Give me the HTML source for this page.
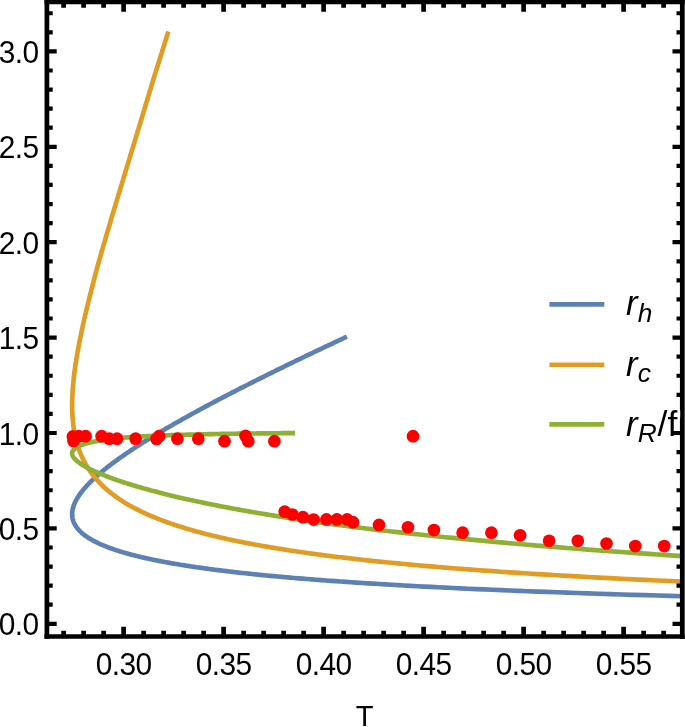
<!DOCTYPE html><html><head><meta charset="utf-8"><style>html,body{margin:0;padding:0;background:#fff}svg{display:block}</style></head><body><svg width="685" height="727" viewBox="0 0 685 727">
<defs><clipPath id="c"><rect x="47.0" y="2.0" width="635.4" height="634.5"/></clipPath></defs>
<rect width="685" height="727" fill="#fff"/>
<g clip-path="url(#c)" fill="none" stroke-width="4.65" stroke-linejoin="round">
<path d="M893.92,600.90 L874.58,600.55 L855.84,600.19 L837.70,599.83 L820.11,599.47 L803.07,599.11 L786.53,598.75 L770.49,598.39 L754.92,598.04 L739.80,597.68 L725.12,597.32 L710.85,596.96 L696.98,596.60 L683.50,596.24 L670.38,595.88 L657.62,595.53 L645.20,595.17 L633.12,594.81 L621.35,594.45 L609.88,594.09 L598.71,593.73 L587.82,593.37 L577.21,593.02 L566.87,592.66 L556.78,592.30 L546.93,591.94 L537.33,591.58 L527.96,591.22 L518.81,590.86 L509.88,590.51 L501.15,590.15 L492.63,589.79 L484.31,589.43 L476.17,589.07 L468.23,588.71 L460.46,588.35 L452.86,588.00 L445.43,587.64 L438.17,587.28 L431.06,586.92 L424.11,586.56 L417.31,586.20 L410.65,585.84 L404.13,585.49 L397.76,585.13 L391.51,584.77 L385.40,584.41 L379.41,584.05 L373.55,583.69 L367.80,583.34 L362.17,582.98 L356.66,582.62 L351.26,582.26 L345.96,581.90 L340.77,581.54 L335.68,581.18 L330.69,580.83 L325.80,580.47 L321.01,580.11 L316.30,579.75 L311.69,579.39 L307.17,579.03 L302.73,578.67 L298.37,578.32 L294.10,577.96 L289.91,577.60 L285.79,577.24 L281.76,576.88 L277.80,576.52 L273.91,576.16 L270.09,575.81 L266.34,575.45 L262.66,575.09 L259.05,574.73 L255.50,574.37 L252.02,574.01 L248.60,573.65 L245.24,573.30 L241.94,572.94 L238.70,572.58 L235.52,572.22 L232.39,571.86 L229.32,571.50 L226.30,571.14 L223.34,570.79 L220.43,570.43 L217.57,570.07 L214.76,569.71 L211.99,569.35 L209.28,568.99 L206.61,568.63 L203.99,568.28 L201.41,567.92 L198.88,567.56 L196.39,567.20 L193.94,566.84 L191.54,566.48 L189.18,566.12 L186.85,565.77 L184.57,565.41 L182.32,565.05 L180.12,564.69 L177.95,564.33 L175.82,563.97 L173.72,563.61 L171.66,563.26 L169.63,562.90 L167.64,562.54 L165.68,562.18 L163.76,561.82 L161.86,561.46 L160.00,561.10 L158.17,560.75 L156.38,560.39 L154.61,560.03 L152.87,559.67 L151.16,559.31 L149.48,558.95 L147.83,558.60 L146.20,558.24 L144.61,557.88 L143.04,557.52 L141.49,557.16 L139.98,556.80 L138.48,556.44 L137.02,556.09 L135.58,555.73 L134.16,555.37 L132.77,555.01 L131.40,554.65 L130.05,554.29 L128.73,553.93 L127.43,553.58 L126.15,553.22 L124.90,552.86 L123.66,552.50 L122.45,552.14 L121.26,551.78 L120.09,551.42 L118.94,551.07 L117.81,550.71 L116.70,550.35 L115.61,549.99 L114.54,549.63 L113.48,549.27 L112.45,548.91 L111.43,548.56 L110.44,548.20 L109.46,547.84 L108.49,547.48 L108.49,547.48 L107.11,546.95 L105.76,546.42 L104.45,545.89 L103.17,545.37 L101.93,544.84 L100.72,544.31 L99.54,543.78 L98.40,543.25 L97.29,542.72 L96.21,542.20 L95.16,541.67 L94.15,541.14 L93.16,540.61 L92.20,540.08 L91.27,539.55 L90.37,539.03 L89.49,538.50 L88.65,537.97 L87.82,537.44 L87.03,536.91 L86.26,536.38 L85.52,535.86 L84.80,535.33 L84.10,534.80 L83.43,534.27 L82.78,533.74 L82.16,533.21 L81.56,532.68 L80.98,532.16 L80.42,531.63 L79.88,531.10 L79.36,530.57 L78.87,530.04 L78.39,529.51 L77.94,528.99 L77.51,528.46 L77.09,527.93 L76.69,527.40 L76.32,526.87 L75.96,526.34 L75.61,525.82 L75.29,525.29 L74.99,524.76 L74.70,524.23 L74.43,523.70 L74.17,523.17 L73.93,522.64 L73.71,522.12 L73.50,521.59 L73.31,521.06 L73.14,520.53 L72.98,520.00 L72.83,519.47 L72.70,518.95 L72.59,518.42 L72.49,517.89 L72.40,517.36 L72.33,516.83 L72.27,516.30 L72.22,515.78 L72.19,515.25 L72.17,514.72 L72.17,514.19 L72.17,513.66 L72.19,513.13 L72.22,512.61 L72.27,512.08 L72.32,511.55 L72.39,511.02 L72.47,510.49 L72.56,509.96 L72.66,509.43 L72.77,508.91 L72.90,508.38 L73.03,507.85 L73.18,507.32 L73.34,506.79 L73.50,506.26 L73.68,505.74 L73.87,505.21 L74.07,504.68 L74.27,504.15 L74.49,503.62 L74.72,503.09 L74.96,502.57 L75.20,502.04 L75.46,501.51 L75.72,500.98 L76.00,500.45 L76.28,499.92 L76.57,499.40 L76.87,498.87 L77.18,498.34 L77.50,497.81 L77.82,497.28 L78.16,496.75 L78.50,496.22 L78.85,495.70 L79.21,495.17 L79.57,494.64 L79.95,494.11 L80.33,493.58 L80.72,493.05 L81.12,492.53 L81.52,492.00 L81.93,491.47 L82.35,490.94 L82.78,490.41 L83.21,489.88 L83.65,489.36 L84.10,488.83 L84.55,488.30 L85.01,487.77 L85.48,487.24 L85.95,486.71 L86.43,486.18 L86.92,485.66 L87.41,485.13 L87.91,484.60 L88.42,484.07 L88.93,483.54 L89.45,483.01 L89.97,482.49 L90.50,481.96 L91.03,481.43 L91.58,480.90 L92.12,480.37 L92.68,479.84 L93.23,479.32 L93.80,478.79 L94.37,478.26 L94.94,477.73 L95.52,477.20 L96.11,476.67 L96.70,476.15 L97.30,475.62 L97.90,475.09 L98.50,474.56 L99.12,474.03 L99.73,473.50 L100.35,472.97 L100.98,472.45 L101.61,471.92 L102.25,471.39 L102.89,470.86 L103.53,470.33 L104.18,469.80 L104.84,469.28 L105.50,468.75 L106.16,468.22 L106.83,467.69 L107.50,467.16 L108.18,466.63 L108.86,466.11 L109.55,465.58 L110.24,465.05 L110.93,464.52 L111.63,463.99 L112.33,463.46 L113.04,462.94 L113.75,462.41 L114.46,461.88 L115.18,461.35 L115.90,460.82 L116.63,460.29 L117.36,459.76 L118.09,459.24 L118.83,458.71 L119.57,458.18 L120.32,457.65 L121.07,457.12 L121.82,456.59 L122.57,456.07 L123.33,455.54 L124.10,455.01 L124.86,454.48 L125.63,453.95 L126.41,453.42 L127.18,452.90 L127.96,452.37 L128.75,451.84 L129.53,451.31 L130.32,450.78 L131.12,450.25 L131.91,449.72 L132.71,449.20 L133.52,448.67 L134.32,448.14 L135.13,447.61 L135.94,447.08 L136.76,446.55 L137.58,446.03 L138.40,445.50 L139.22,444.97 L140.05,444.44 L140.88,443.91 L141.71,443.38 L142.55,442.86 L143.39,442.33 L144.23,441.80 L145.07,441.27 L145.92,440.74 L146.77,440.21 L147.62,439.69 L148.48,439.16 L149.33,438.63 L150.19,438.10 L151.06,437.57 L151.92,437.04 L152.79,436.51 L153.66,435.99 L154.53,435.46 L155.41,434.93 L156.29,434.40 L157.17,433.87 L158.05,433.34 L158.94,432.82 L159.83,432.29 L160.72,431.76 L161.61,431.23 L162.50,430.70 L163.40,430.17 L164.30,429.65 L165.20,429.12 L166.11,428.59 L167.01,428.06 L167.92,427.53 L168.83,427.00 L169.75,426.48 L170.66,425.95 L171.58,425.42 L172.50,424.89 L173.42,424.36 L174.34,423.83 L175.27,423.30 L176.20,422.78 L177.13,422.25 L178.06,421.72 L179.00,421.19 L179.93,420.66 L180.87,420.13 L181.81,419.61 L182.75,419.08 L183.70,418.55 L184.64,418.02 L185.59,417.49 L186.54,416.96 L187.49,416.44 L188.45,415.91 L189.40,415.38 L190.36,414.85 L191.32,414.32 L192.28,413.79 L193.24,413.26 L194.21,412.74 L195.18,412.21 L196.14,411.68 L197.11,411.15 L198.09,410.62 L199.06,410.09 L200.04,409.57 L201.01,409.04 L201.99,408.51 L202.97,407.98 L203.95,407.45 L204.94,406.92 L205.92,406.40 L206.91,405.87 L207.90,405.34 L208.89,404.81 L209.88,404.28 L210.87,403.75 L211.87,403.23 L212.87,402.70 L213.86,402.17 L214.86,401.64 L215.86,401.11 L216.87,400.58 L217.87,400.05 L218.88,399.53 L219.88,399.00 L220.89,398.47 L221.90,397.94 L222.91,397.41 L223.93,396.88 L224.94,396.36 L225.96,395.83 L226.98,395.30 L227.99,394.77 L229.01,394.24 L230.04,393.71 L231.06,393.19 L232.08,392.66 L233.11,392.13 L234.14,391.60 L235.16,391.07 L236.19,390.54 L237.22,390.02 L238.26,389.49 L239.29,388.96 L240.33,388.43 L241.36,387.90 L242.40,387.37 L243.44,386.84 L244.48,386.32 L245.52,385.79 L246.56,385.26 L247.61,384.73 L248.65,384.20 L249.70,383.67 L250.74,383.15 L251.79,382.62 L252.84,382.09 L253.89,381.56 L254.95,381.03 L256.00,380.50 L257.05,379.98 L258.11,379.45 L259.17,378.92 L260.22,378.39 L261.28,377.86 L262.34,377.33 L263.40,376.80 L264.47,376.28 L265.53,375.75 L266.60,375.22 L267.66,374.69 L268.73,374.16 L269.80,373.63 L270.87,373.11 L271.94,372.58 L273.01,372.05 L274.08,371.52 L275.15,370.99 L276.23,370.46 L277.30,369.94 L278.38,369.41 L279.46,368.88 L280.53,368.35 L281.61,367.82 L282.69,367.29 L283.77,366.77 L284.86,366.24 L285.94,365.71 L287.02,365.18 L288.11,364.65 L289.20,364.12 L290.28,363.59 L291.37,363.07 L292.46,362.54 L293.55,362.01 L294.64,361.48 L295.73,360.95 L296.83,360.42 L297.92,359.90 L299.01,359.37 L300.11,358.84 L301.21,358.31 L302.30,357.78 L303.40,357.25 L304.50,356.73 L305.60,356.20 L306.70,355.67 L307.80,355.14 L308.91,354.61 L310.01,354.08 L311.11,353.55 L312.22,353.03 L313.33,352.50 L314.43,351.97 L315.54,351.44 L316.65,350.91 L317.76,350.38 L318.87,349.86 L319.98,349.33 L321.09,348.80 L322.20,348.27 L323.32,347.74 L324.43,347.21 L325.55,346.69 L326.66,346.16 L327.78,345.63 L328.90,345.10 L330.02,344.57 L331.13,344.04 L332.25,343.52 L333.37,342.99 L334.50,342.46 L335.62,341.93 L336.74,341.40 L337.86,340.87 L338.99,340.34 L340.11,339.82 L341.24,339.29 L342.36,338.76 L343.49,338.23 L344.62,337.70 L345.75,337.17 L346.88,336.65" stroke="#5e81b5"/>
<path d="M893.92,588.96 L874.58,588.40 L855.84,587.84 L837.70,587.27 L820.11,586.71 L803.07,586.15 L786.53,585.58 L770.49,585.02 L754.92,584.45 L739.80,583.88 L725.12,583.31 L710.85,582.74 L696.98,582.17 L683.50,581.60 L670.38,581.03 L657.62,580.46 L645.20,579.88 L633.12,579.31 L621.35,578.73 L609.88,578.16 L598.71,577.58 L587.82,577.00 L577.21,576.42 L566.87,575.84 L556.78,575.26 L546.93,574.68 L537.33,574.09 L527.96,573.51 L518.81,572.92 L509.88,572.34 L501.15,571.75 L492.63,571.16 L484.31,570.57 L476.17,569.98 L468.23,569.39 L460.46,568.80 L452.86,568.20 L445.43,567.61 L438.17,567.01 L431.06,566.41 L424.11,565.82 L417.31,565.22 L410.65,564.61 L404.13,564.01 L397.76,563.41 L391.51,562.80 L385.40,562.20 L379.41,561.59 L373.55,560.98 L367.80,560.37 L362.17,559.76 L356.66,559.15 L351.26,558.54 L345.96,557.92 L340.77,557.30 L335.68,556.69 L330.69,556.07 L325.80,555.45 L321.01,554.83 L316.30,554.20 L311.69,553.58 L307.17,552.95 L302.73,552.32 L298.37,551.70 L294.10,551.07 L289.91,550.43 L285.79,549.80 L281.76,549.17 L277.80,548.53 L273.91,547.89 L270.09,547.25 L266.34,546.61 L262.66,545.97 L259.05,545.33 L255.50,544.68 L252.02,544.03 L248.60,543.39 L245.24,542.74 L241.94,542.08 L238.70,541.43 L235.52,540.78 L232.39,540.12 L229.32,539.46 L226.30,538.80 L223.34,538.14 L220.43,537.48 L217.57,536.81 L214.76,536.14 L211.99,535.48 L209.28,534.81 L206.61,534.13 L203.99,533.46 L201.41,532.79 L198.88,532.11 L196.39,531.43 L193.94,530.75 L191.54,530.07 L189.18,529.38 L186.85,528.70 L184.57,528.01 L182.32,527.32 L180.12,526.63 L177.95,525.93 L175.82,525.24 L173.72,524.54 L171.66,523.84 L169.63,523.14 L167.64,522.44 L165.68,521.73 L163.76,521.02 L161.86,520.31 L160.00,519.60 L158.17,518.89 L156.38,518.18 L154.61,517.46 L152.87,516.74 L151.16,516.02 L149.48,515.29 L147.83,514.57 L146.20,513.84 L144.61,513.11 L143.04,512.38 L141.49,511.65 L139.98,510.91 L138.48,510.17 L137.02,509.43 L135.58,508.69 L134.16,507.95 L132.77,507.20 L131.40,506.45 L130.05,505.70 L128.73,504.95 L127.43,504.19 L126.15,503.44 L124.90,502.68 L123.66,501.91 L122.45,501.15 L121.26,500.38 L120.09,499.61 L118.94,498.84 L117.81,498.07 L116.70,497.29 L115.61,496.52 L114.54,495.74 L113.48,494.95 L112.45,494.17 L111.43,493.38 L110.44,492.59 L109.46,491.80 L108.49,491.00 L108.49,491.00 L107.11,489.83 L105.76,488.65 L104.45,487.46 L103.17,486.27 L101.93,485.07 L100.72,483.87 L99.54,482.66 L98.40,481.45 L97.29,480.23 L96.21,479.00 L95.16,477.77 L94.15,476.54 L93.16,475.29 L92.20,474.05 L91.27,472.79 L90.37,471.53 L89.49,470.27 L88.65,469.00 L87.82,467.72 L87.03,466.44 L86.26,465.15 L85.52,463.86 L84.80,462.56 L84.10,461.25 L83.43,459.94 L82.78,458.62 L82.16,457.29 L81.56,455.96 L80.98,454.62 L80.42,453.28 L79.88,451.93 L79.36,450.57 L78.87,449.21 L78.39,447.84 L77.94,446.46 L77.51,445.08 L77.09,443.69 L76.69,442.29 L76.32,440.89 L75.96,439.48 L75.61,438.06 L75.29,436.64 L74.99,435.21 L74.70,433.77 L74.43,432.33 L74.17,430.88 L73.93,429.42 L73.71,427.96 L73.50,426.48 L73.31,425.01 L73.14,423.52 L72.98,422.03 L72.83,420.53 L72.70,419.02 L72.59,417.51 L72.49,415.98 L72.40,414.45 L72.33,412.92 L72.27,411.37 L72.22,409.82 L72.19,408.27 L72.17,406.70 L72.17,405.13 L72.17,403.54 L72.19,401.96 L72.22,400.36 L72.27,398.76 L72.32,397.14 L72.39,395.52 L72.47,393.90 L72.56,392.26 L72.66,390.62 L72.77,388.97 L72.90,387.31 L73.03,385.64 L73.18,383.97 L73.34,382.28 L73.50,380.59 L73.68,378.89 L73.87,377.19 L74.07,375.47 L74.27,373.75 L74.49,372.02 L74.72,370.28 L74.96,368.53 L75.20,366.77 L75.46,365.01 L75.72,363.23 L76.00,361.45 L76.28,359.66 L76.57,357.86 L76.87,356.05 L77.18,354.24 L77.50,352.41 L77.82,350.58 L78.16,348.74 L78.50,346.88 L78.85,345.02 L79.21,343.15 L79.57,341.28 L79.95,339.39 L80.33,337.49 L80.72,335.59 L81.12,333.68 L81.52,331.75 L81.93,329.82 L82.35,327.88 L82.78,325.93 L83.21,323.97 L83.65,322.00 L84.10,320.02 L84.55,318.04 L85.01,316.04 L85.48,314.04 L85.95,312.02 L86.43,310.00 L86.92,307.96 L87.41,305.92 L87.91,303.86 L88.42,301.80 L88.93,299.73 L89.45,297.65 L89.97,295.55 L90.50,293.45 L91.03,291.34 L91.58,289.22 L92.12,287.09 L92.68,284.95 L93.23,282.79 L93.80,280.63 L94.37,278.46 L94.94,276.28 L95.52,274.09 L96.11,271.89 L96.70,269.68 L97.30,267.46 L97.90,265.22 L98.50,262.98 L99.12,260.73 L99.73,258.49 L100.35,256.30 L100.98,254.11 L101.61,251.91 L102.25,249.69 L102.89,247.47 L103.53,245.24 L104.18,243.00 L104.84,240.75 L105.50,238.49 L106.16,236.22 L106.83,233.94 L107.50,231.65 L108.18,229.35 L108.86,227.04 L109.55,224.72 L110.24,222.39 L110.93,220.06 L111.63,217.71 L112.33,215.35 L113.04,212.99 L113.75,210.61 L114.46,208.22 L115.18,205.83 L115.90,203.42 L116.63,201.00 L117.36,198.58 L118.09,196.14 L118.83,193.69 L119.57,191.24 L120.32,188.77 L121.07,186.29 L121.82,183.81 L122.57,181.31 L123.33,178.80 L124.10,176.28 L124.86,173.75 L125.63,171.22 L126.41,168.66 L127.18,166.10 L127.96,163.53 L128.75,160.94 L129.53,158.34 L130.32,155.74 L131.12,153.12 L131.91,150.49 L132.71,147.86 L133.52,145.21 L134.32,142.55 L135.13,139.88 L135.94,137.20 L136.76,134.51 L137.58,131.80 L138.40,129.09 L139.22,126.37 L140.05,123.63 L140.88,120.89 L141.71,118.13 L142.55,115.36 L143.39,112.59 L144.23,109.80 L145.07,107.00 L145.92,104.18 L146.77,101.36 L147.62,98.53 L148.48,95.68 L149.33,92.83 L150.19,89.96 L151.06,87.08 L151.92,84.19 L152.79,81.29 L153.66,78.45 L154.53,75.68 L155.41,72.89 L156.29,70.10 L157.17,67.29 L158.05,64.48 L158.94,61.66 L159.83,58.82 L160.72,55.98 L161.61,53.13 L162.50,50.26 L163.40,47.39 L164.30,44.51 L165.20,41.62 L166.11,38.72 L167.01,35.80 L167.92,32.88 L168.36,31.46" stroke="#e19c24"/>
<path d="M893.92,567.07 L874.58,566.21 L855.84,565.36 L837.70,564.51 L820.11,563.66 L803.07,562.81 L786.53,561.97 L770.49,561.13 L754.92,560.29 L739.80,559.46 L725.12,558.63 L710.85,557.80 L696.98,556.97 L683.50,556.15 L670.38,555.32 L657.62,554.50 L645.20,553.67 L633.12,552.85 L621.35,552.03 L609.88,551.21 L598.71,550.40 L587.82,549.59 L577.21,548.78 L566.87,547.98 L556.78,547.18 L546.93,546.38 L537.33,545.59 L527.96,544.79 L518.81,544.01 L509.88,543.22 L501.15,542.44 L492.63,541.66 L484.31,540.89 L476.17,540.14 L468.23,539.40 L460.46,538.67 L452.86,537.93 L445.43,537.20 L438.17,536.47 L431.06,535.75 L424.11,535.02 L417.31,534.31 L410.65,533.59 L404.13,532.88 L397.76,532.17 L391.51,531.47 L385.40,530.77 L379.41,530.07 L373.55,529.38 L367.80,528.69 L362.17,528.00 L356.66,527.32 L351.26,526.64 L345.96,525.96 L340.77,525.29 L335.68,524.62 L330.69,523.95 L325.80,523.29 L321.01,522.63 L316.30,521.98 L311.69,521.33 L307.17,520.68 L302.73,520.03 L298.37,519.39 L294.10,518.75 L289.91,518.12 L285.79,517.49 L281.76,516.86 L277.80,516.24 L273.91,515.62 L270.09,515.01 L266.34,514.39 L262.66,513.78 L259.05,513.18 L255.50,512.58 L252.02,511.98 L248.60,511.38 L245.24,510.79 L241.94,510.20 L238.70,509.62 L235.52,509.04 L232.39,508.46 L229.32,507.89 L226.30,507.32 L223.34,506.75 L220.43,506.19 L217.57,505.63 L214.76,505.07 L211.99,504.52 L209.28,503.97 L206.61,503.43 L203.99,502.88 L201.41,502.34 L198.88,501.81 L196.39,501.28 L193.94,500.75 L191.54,500.22 L189.18,499.70 L186.85,499.18 L184.57,498.67 L182.32,498.16 L180.12,497.65 L177.95,497.14 L175.82,496.64 L173.72,496.15 L171.66,495.65 L169.63,495.16 L167.64,494.67 L165.68,494.19 L163.76,493.70 L161.86,493.23 L160.00,492.75 L158.17,492.28 L156.38,491.81 L154.61,491.35 L152.87,490.88 L151.16,490.43 L149.48,489.97 L147.83,489.52 L146.20,489.07 L144.61,488.62 L143.04,488.18 L141.49,487.74 L139.98,487.30 L138.48,486.87 L137.02,486.44 L135.58,486.01 L134.16,485.59 L132.77,485.17 L131.40,484.75 L130.05,484.33 L128.73,483.92 L127.43,483.51 L126.15,483.10 L124.90,482.70 L123.66,482.30 L122.45,481.90 L121.26,481.51 L120.09,481.12 L118.94,480.73 L117.81,480.34 L116.70,479.96 L115.61,479.58 L114.54,479.20 L113.48,478.83 L112.45,478.46 L111.43,478.09 L110.44,477.72 L109.46,477.36 L108.49,477.00 L108.49,477.00 L107.11,476.47 L105.76,475.95 L104.45,475.43 L103.17,474.93 L101.93,474.42 L100.72,473.92 L99.54,473.43 L98.40,472.95 L97.29,472.47 L96.21,471.99 L95.16,471.52 L94.15,471.06 L93.16,470.60 L92.20,470.14 L91.27,469.69 L90.37,469.25 L89.49,468.81 L88.65,468.38 L87.82,467.95 L87.03,467.53 L86.26,467.11 L85.52,466.70 L84.80,466.29 L84.10,465.88 L83.43,465.49 L82.78,465.09 L82.16,464.70 L81.56,464.32 L80.98,463.94 L80.42,463.56 L79.88,463.19 L79.36,462.82 L78.87,462.46 L78.39,462.10 L77.94,461.75 L77.51,461.40 L77.09,461.05 L76.69,460.71 L76.32,460.37 L75.96,460.04 L75.61,459.71 L75.29,459.39 L74.99,459.07 L74.70,458.75 L74.43,458.44 L74.17,458.13 L73.93,457.82 L73.71,457.52 L73.50,457.22 L73.31,456.92 L73.14,456.63 L72.98,456.35 L72.83,456.06 L72.70,455.78 L72.59,455.50 L72.49,455.23 L72.40,454.96 L72.33,454.69 L72.27,454.43 L72.22,454.17 L72.19,453.91 L72.17,453.66 L72.17,453.41 L72.17,453.16 L72.19,452.91 L72.22,452.67 L72.27,452.43 L72.32,452.20 L72.39,451.96 L72.47,451.73 L72.56,451.51 L72.66,451.28 L72.77,451.06 L72.90,450.83 L73.03,450.61 L73.18,450.39 L73.34,450.17 L73.50,449.95 L73.68,449.74 L73.87,449.53 L74.07,449.33 L74.27,449.12 L74.49,448.92 L74.72,448.72 L74.96,448.52 L75.20,448.33 L75.46,448.13 L75.72,447.94 L76.00,447.76 L76.28,447.57 L76.57,447.39 L76.87,447.20 L77.18,447.03 L77.50,446.85 L77.82,446.67 L78.16,446.50 L78.50,446.33 L78.85,446.16 L79.21,445.99 L79.57,445.83 L79.95,445.67 L80.33,445.51 L80.72,445.35 L81.12,445.19 L81.52,445.04 L81.93,444.88 L82.35,444.73 L82.78,444.58 L83.21,444.43 L83.65,444.29 L84.10,444.14 L84.55,444.00 L85.01,443.86 L85.48,443.72 L85.95,443.58 L86.43,443.45 L86.92,443.31 L87.41,443.18 L87.91,443.05 L88.42,442.92 L88.93,442.79 L89.45,442.66 L89.97,442.54 L90.50,442.42 L91.03,442.29 L91.58,442.17 L92.12,442.05 L92.68,441.94 L93.23,441.82 L93.80,441.70 L94.37,441.59 L94.94,441.48 L95.52,441.37 L96.11,441.26 L96.70,441.15 L97.30,441.04 L97.90,440.93 L98.50,440.83 L99.12,440.73 L99.73,440.62 L100.35,440.52 L100.98,440.42 L101.61,440.32 L102.25,440.22 L102.89,440.13 L103.53,440.03 L104.18,439.94 L104.84,439.84 L105.50,439.75 L106.16,439.66 L106.83,439.57 L107.50,439.48 L108.18,439.39 L108.86,439.31 L109.55,439.22 L110.24,439.13 L110.93,439.05 L111.63,438.97 L112.33,438.88 L113.04,438.80 L113.75,438.72 L114.46,438.64 L115.18,438.56 L115.90,438.49 L116.63,438.41 L117.36,438.33 L118.09,438.26 L118.83,438.18 L119.57,438.11 L120.32,438.04 L121.07,437.96 L121.82,437.89 L122.57,437.82 L123.33,437.75 L124.10,437.68 L124.86,437.61 L125.63,437.55 L126.41,437.48 L127.18,437.41 L127.96,437.35 L128.75,437.29 L129.53,437.23 L130.32,437.17 L131.12,437.12 L131.91,437.06 L132.71,437.01 L133.52,436.96 L134.32,436.90 L135.13,436.85 L135.94,436.80 L136.76,436.75 L137.58,436.70 L138.40,436.65 L139.22,436.60 L140.05,436.55 L140.88,436.51 L141.71,436.46 L142.55,436.41 L143.39,436.37 L144.23,436.32 L145.07,436.28 L145.92,436.23 L146.77,436.19 L147.62,436.14 L148.48,436.10 L149.33,436.06 L150.19,436.02 L151.06,435.98 L151.92,435.94 L152.79,435.89 L153.66,435.85 L154.53,435.82 L155.41,435.78 L156.29,435.74 L157.17,435.70 L158.05,435.66 L158.94,435.63 L159.83,435.59 L160.72,435.55 L161.61,435.52 L162.50,435.48 L163.40,435.45 L164.30,435.41 L165.20,435.38 L166.11,435.34 L167.01,435.31 L167.92,435.28 L168.83,435.24 L169.75,435.21 L170.66,435.18 L171.58,435.15 L172.50,435.12 L173.42,435.09 L174.34,435.06 L175.27,435.03 L176.20,435.00 L177.13,434.97 L178.06,434.94 L179.00,434.91 L179.93,434.88 L180.87,434.85 L181.81,434.83 L182.75,434.80 L183.70,434.77 L184.64,434.74 L185.59,434.72 L186.54,434.69 L187.49,434.67 L188.45,434.64 L189.40,434.62 L190.36,434.59 L191.32,434.57 L192.28,434.54 L193.24,434.52 L194.21,434.49 L195.18,434.47 L196.14,434.45 L197.11,434.42 L198.09,434.40 L199.06,434.38 L200.04,434.36 L201.01,434.33 L201.99,434.31 L202.97,434.29 L203.95,434.27 L204.94,434.25 L205.92,434.23 L206.91,434.21 L207.90,434.19 L208.89,434.17 L209.88,434.15 L210.87,434.13 L211.87,434.11 L212.87,434.09 L213.86,434.07 L214.86,434.05 L215.86,434.03 L216.87,434.01 L217.87,434.00 L218.88,433.98 L219.88,433.96 L220.89,433.94 L221.90,433.93 L222.91,433.91 L223.93,433.89 L224.94,433.87 L225.96,433.86 L226.98,433.84 L227.99,433.83 L229.01,433.81 L230.04,433.79 L231.06,433.78 L232.08,433.76 L233.11,433.75 L234.14,433.73 L235.16,433.72 L236.19,433.70 L237.22,433.69 L238.26,433.67 L239.29,433.66 L240.33,433.64 L241.36,433.63 L242.40,433.62 L243.44,433.60 L244.48,433.59 L245.52,433.58 L246.56,433.56 L247.61,433.55 L248.65,433.54 L249.70,433.52 L250.74,433.51 L251.79,433.50 L252.84,433.48 L253.89,433.47 L254.95,433.46 L256.00,433.45 L257.05,433.44 L258.11,433.42 L259.17,433.41 L260.22,433.40 L261.28,433.39 L262.34,433.38 L263.40,433.37 L264.47,433.36 L265.53,433.35 L266.60,433.33 L267.66,433.32 L268.73,433.31 L269.80,433.30 L270.87,433.29 L271.94,433.28 L273.01,433.27 L274.08,433.26 L275.15,433.25 L276.23,433.24 L277.30,433.23 L278.38,433.22 L279.46,433.21 L280.53,433.20 L281.61,433.19 L282.69,433.18 L283.77,433.18 L284.86,433.17 L285.94,433.16 L287.02,433.15 L288.11,433.14 L289.20,433.13 L290.28,433.12 L291.37,433.11 L292.46,433.11 L293.55,433.10 L294.64,433.09 L295.02,433.09" stroke="#8fb032"/>
</g>
<g fill="#ff0000">
<circle cx="72.9" cy="436.4" r="6.35"/>
<circle cx="73.5" cy="441.0" r="6.35"/>
<circle cx="78.9" cy="436.2" r="6.35"/>
<circle cx="85.6" cy="436.2" r="6.35"/>
<circle cx="101.6" cy="436.2" r="6.35"/>
<circle cx="109.3" cy="438.7" r="6.35"/>
<circle cx="117.1" cy="438.7" r="6.35"/>
<circle cx="135.6" cy="438.7" r="6.35"/>
<circle cx="156.5" cy="439.0" r="6.35"/>
<circle cx="159.1" cy="436.2" r="6.35"/>
<circle cx="177.4" cy="438.7" r="6.35"/>
<circle cx="198.3" cy="438.7" r="6.35"/>
<circle cx="224.5" cy="441.2" r="6.35"/>
<circle cx="245.5" cy="435.9" r="6.35"/>
<circle cx="248.3" cy="441.2" r="6.35"/>
<circle cx="274.4" cy="441.2" r="6.35"/>
<circle cx="413.05" cy="436.2" r="6.35"/>
<circle cx="284.7" cy="511.7" r="6.35"/>
<circle cx="292.4" cy="514.5" r="6.35"/>
<circle cx="302.9" cy="517.2" r="6.35"/>
<circle cx="313.6" cy="519.6" r="6.35"/>
<circle cx="326.4" cy="519.4" r="6.35"/>
<circle cx="336.9" cy="519.4" r="6.35"/>
<circle cx="347.1" cy="519.4" r="6.35"/>
<circle cx="353.0" cy="522.2" r="6.35"/>
<circle cx="379.0" cy="524.9" r="6.35"/>
<circle cx="408.0" cy="527.3" r="6.35"/>
<circle cx="433.9" cy="530.1" r="6.35"/>
<circle cx="462.6" cy="532.7" r="6.35"/>
<circle cx="491.4" cy="532.7" r="6.35"/>
<circle cx="520.1" cy="535.3" r="6.35"/>
<circle cx="549.1" cy="540.8" r="6.35"/>
<circle cx="577.8" cy="540.8" r="6.35"/>
<circle cx="606.5" cy="543.5" r="6.35"/>
<circle cx="635.3" cy="546.1" r="6.35"/>
<circle cx="664.2" cy="546.1" r="6.35"/>
</g>
<path d="M63.60,636.5 v-5.8 M63.60,2.0 v5.8 M83.60,636.5 v-5.8 M83.60,2.0 v5.8 M103.60,636.5 v-5.8 M103.60,2.0 v5.8 M123.60,636.5 v-9.8 M123.60,2.0 v9.8 M143.60,636.5 v-5.8 M143.60,2.0 v5.8 M163.60,636.5 v-5.8 M163.60,2.0 v5.8 M183.60,636.5 v-5.8 M183.60,2.0 v5.8 M203.60,636.5 v-5.8 M203.60,2.0 v5.8 M223.60,636.5 v-9.8 M223.60,2.0 v9.8 M243.60,636.5 v-5.8 M243.60,2.0 v5.8 M263.60,636.5 v-5.8 M263.60,2.0 v5.8 M283.60,636.5 v-5.8 M283.60,2.0 v5.8 M303.60,636.5 v-5.8 M303.60,2.0 v5.8 M323.60,636.5 v-9.8 M323.60,2.0 v9.8 M343.60,636.5 v-5.8 M343.60,2.0 v5.8 M363.60,636.5 v-5.8 M363.60,2.0 v5.8 M383.60,636.5 v-5.8 M383.60,2.0 v5.8 M403.60,636.5 v-5.8 M403.60,2.0 v5.8 M423.60,636.5 v-9.8 M423.60,2.0 v9.8 M443.60,636.5 v-5.8 M443.60,2.0 v5.8 M463.60,636.5 v-5.8 M463.60,2.0 v5.8 M483.60,636.5 v-5.8 M483.60,2.0 v5.8 M503.60,636.5 v-5.8 M503.60,2.0 v5.8 M523.60,636.5 v-9.8 M523.60,2.0 v9.8 M543.60,636.5 v-5.8 M543.60,2.0 v5.8 M563.60,636.5 v-5.8 M563.60,2.0 v5.8 M583.60,636.5 v-5.8 M583.60,2.0 v5.8 M603.60,636.5 v-5.8 M603.60,2.0 v5.8 M623.60,636.5 v-9.8 M623.60,2.0 v9.8 M643.60,636.5 v-5.8 M643.60,2.0 v5.8 M663.60,636.5 v-5.8 M663.60,2.0 v5.8" stroke="#000" stroke-width="4.7" fill="none"/>
<path d="M46.9,623.80 h9.8 M682.3,623.80 h-9.8 M46.9,604.72 h5.8 M682.3,604.72 h-5.8 M46.9,585.64 h5.8 M682.3,585.64 h-5.8 M46.9,566.56 h5.8 M682.3,566.56 h-5.8 M46.9,547.48 h5.8 M682.3,547.48 h-5.8 M46.9,528.40 h9.8 M682.3,528.40 h-9.8 M46.9,509.32 h5.8 M682.3,509.32 h-5.8 M46.9,490.24 h5.8 M682.3,490.24 h-5.8 M46.9,471.16 h5.8 M682.3,471.16 h-5.8 M46.9,452.08 h5.8 M682.3,452.08 h-5.8 M46.9,433.00 h9.8 M682.3,433.00 h-9.8 M46.9,413.92 h5.8 M682.3,413.92 h-5.8 M46.9,394.84 h5.8 M682.3,394.84 h-5.8 M46.9,375.76 h5.8 M682.3,375.76 h-5.8 M46.9,356.68 h5.8 M682.3,356.68 h-5.8 M46.9,337.60 h9.8 M682.3,337.60 h-9.8 M46.9,318.52 h5.8 M682.3,318.52 h-5.8 M46.9,299.44 h5.8 M682.3,299.44 h-5.8 M46.9,280.36 h5.8 M682.3,280.36 h-5.8 M46.9,261.28 h5.8 M682.3,261.28 h-5.8 M46.9,242.20 h9.8 M682.3,242.20 h-9.8 M46.9,223.12 h5.8 M682.3,223.12 h-5.8 M46.9,204.04 h5.8 M682.3,204.04 h-5.8 M46.9,184.96 h5.8 M682.3,184.96 h-5.8 M46.9,165.88 h5.8 M682.3,165.88 h-5.8 M46.9,146.80 h9.8 M682.3,146.80 h-9.8 M46.9,127.72 h5.8 M682.3,127.72 h-5.8 M46.9,108.64 h5.8 M682.3,108.64 h-5.8 M46.9,89.56 h5.8 M682.3,89.56 h-5.8 M46.9,70.48 h5.8 M682.3,70.48 h-5.8 M46.9,51.40 h9.8 M682.3,51.40 h-9.8 M46.9,32.32 h5.8 M682.3,32.32 h-5.8 M46.9,13.24 h5.8 M682.3,13.24 h-5.8" stroke="#000" stroke-width="4.2" fill="none"/>
<path d="M46.9,-0.20000000000000018 V638.7 M682.3,-0.20000000000000018 V638.7" stroke="#000" stroke-width="4.75" fill="none"/>
<path d="M44.525,2.0 H684.675 M44.525,636.5 H684.675" stroke="#000" stroke-width="4.4" fill="none"/>
<path d="M549.4,304.3 H604.3" stroke="#5e81b5" stroke-width="4.65"/>
<path d="M549.4,364.7 H604.3" stroke="#e19c24" stroke-width="4.65"/>
<path d="M549.4,424.3 H604.3" stroke="#8fb032" stroke-width="4.65"/>
<g font-family="Liberation Sans, Arial, sans-serif" fill="#000">
<text transform="translate(-1.26,635.30) scale(0.97,1)" font-size="30.8" letter-spacing="-0.6">0.0</text>
<text transform="translate(-1.26,539.90) scale(0.97,1)" font-size="30.8" letter-spacing="-0.6">0.5</text>
<text transform="translate(-1.26,444.50) scale(0.97,1)" font-size="30.8" letter-spacing="-0.6">1.0</text>
<text transform="translate(-1.26,349.10) scale(0.97,1)" font-size="30.8" letter-spacing="-0.6">1.5</text>
<text transform="translate(-1.26,253.70) scale(0.97,1)" font-size="30.8" letter-spacing="-0.6">2.0</text>
<text transform="translate(-1.26,158.30) scale(0.97,1)" font-size="30.8" letter-spacing="-0.6">2.5</text>
<text transform="translate(-1.26,62.90) scale(0.97,1)" font-size="30.8" letter-spacing="-0.6">3.0</text>
<text transform="translate(95.70,675.10) scale(0.97,1)" font-size="30.8" letter-spacing="-0.6">0.30</text>
<text transform="translate(195.70,675.10) scale(0.97,1)" font-size="30.8" letter-spacing="-0.6">0.35</text>
<text transform="translate(295.70,675.10) scale(0.97,1)" font-size="30.8" letter-spacing="-0.6">0.40</text>
<text transform="translate(395.70,675.10) scale(0.97,1)" font-size="30.8" letter-spacing="-0.6">0.45</text>
<text transform="translate(495.70,675.10) scale(0.97,1)" font-size="30.8" letter-spacing="-0.6">0.50</text>
<text transform="translate(595.70,675.10) scale(0.97,1)" font-size="30.8" letter-spacing="-0.6">0.55</text>
<text transform="translate(364.6,726.2) scale(0.97,1)" font-size="30" text-anchor="middle">T</text>
<rect x="668" y="410.5" width="12.2" height="7" fill="#fff"/>
<g font-size="34.6" font-style="italic">
<text x="625.9" y="315.2"><tspan>r</tspan><tspan font-size="26.3" dx="0.4" dy="6.3">h</tspan></text>
<text x="625.9" y="375.6"><tspan>r</tspan><tspan font-size="26.3" dx="0.4" dy="6.3">c</tspan></text>
<text x="625.9" y="435.5"><tspan>r</tspan><tspan font-size="26.3" dx="0.4" dy="6.3">R</tspan><tspan dy="-5.8" dx="0.8" font-style="normal" font-size="35.5">/f</tspan></text>
</g></g></svg></body></html>
